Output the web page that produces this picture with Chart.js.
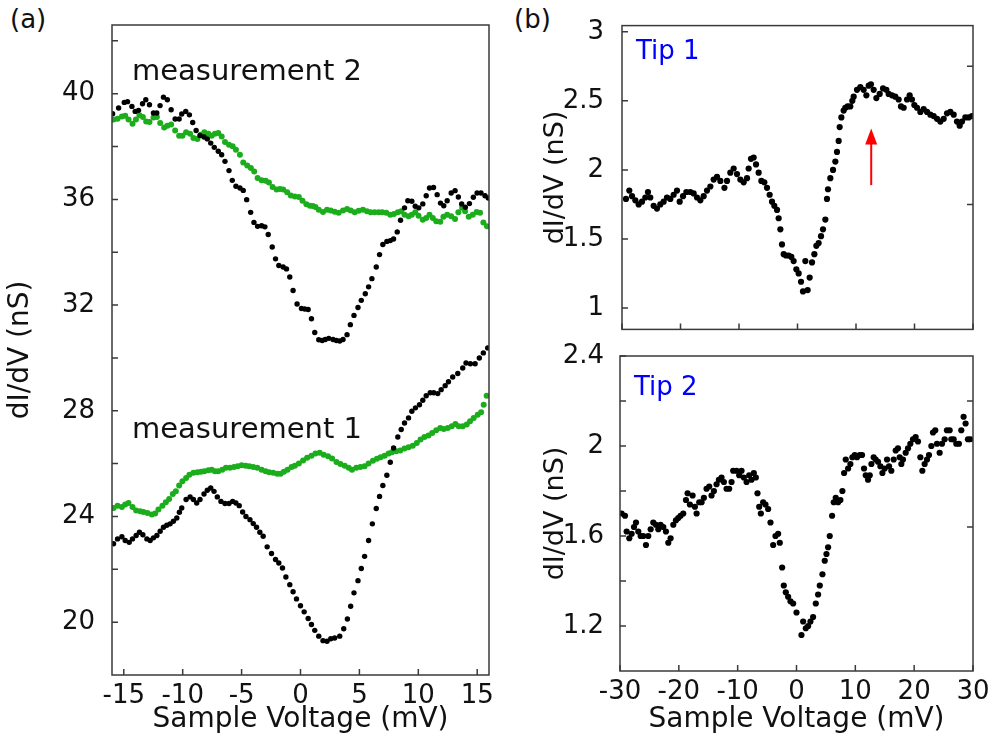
<!DOCTYPE html>
<html>
<head>
<meta charset="utf-8">
<script src="https://cdn.jsdelivr.net/npm/chart.js@4.4.1/dist/chart.umd.min.js"></script>
<style>
  body { margin: 0; background: #fff; }
  #fig { position: relative; width: 992px; height: 749px; overflow: hidden; font-family: "DejaVu Sans", sans-serif; }
  #fig canvas { position: absolute; }
  .panel { position: absolute; font-size: 26px; color: #111; }
</style>
</head>
<body>
<div id="fig">
  <div class="panel" style="left:10px;top:4px">(a)</div>
  <div class="panel" style="left:514px;top:4px">(b)</div>
  <canvas id="chartA" width="500" height="749" style="left:0;top:0"></canvas>
  <canvas id="chartB1" width="482" height="355" style="left:510px;top:0"></canvas>
  <canvas id="chartB2" width="482" height="419" style="left:510px;top:330px"></canvas>
</div>
<script>
// ---- panel (a) : measurement 2 (upper pair) ----
const m2BlackV = [-15.95,-15.44,-14.96,-14.68,-14.31,-14.03,-13.75,-13.41,-13.13,-12.82,-12.48,-12.20,-11.92,-11.63,-11.30,-10.98,-10.64,-10.30,-10.08,-9.74,-9.43,-9.15,-8.86,-8.53,-8.19,-7.91,-7.62,-7.32,-6.98,-6.69,-6.41,-6.07,-5.79,-5.48,-5.14,-4.86,-4.57,-4.23,-3.95,-3.64,-3.30,-3.02,-2.74,-2.40,-2.12,-1.84,-1.47,-1.19,-0.91,-0.63,-0.29,0.08,0.36,0.65,0.93,1.21,1.55,1.84,2.10,2.40,2.76,3.05,3.33,3.61,3.95,4.23,4.54,4.88,5.16,5.50,5.78,6.06,6.43,6.71,6.99,7.33,7.62,7.90,8.21,8.49,8.83,9.11,9.45,9.74,10.04,10.38,10.67,10.95,11.29,11.60,11.88,12.16,12.45,12.79,13.12,13.40,13.68,13.99,14.34,14.67,14.99,15.32,15.66,15.94];
const m2Black = [39.24,39.46,39.67,39.70,39.52,39.33,39.37,39.62,39.77,39.58,39.27,39.27,39.55,39.87,39.77,39.39,39.04,39.04,39.23,39.33,39.20,38.91,38.61,38.42,38.36,38.29,38.13,37.97,37.82,37.69,37.44,37.09,36.72,36.50,36.43,36.34,35.99,35.51,35.13,34.98,35.00,34.96,34.67,34.20,33.75,33.50,33.44,33.37,33.06,32.55,32.04,31.87,31.85,31.83,31.48,30.96,30.69,30.66,30.70,30.74,30.70,30.66,30.64,30.70,30.88,31.26,31.61,31.91,32.18,32.43,32.69,33.00,33.44,33.91,34.29,34.41,34.44,34.50,34.77,35.21,35.68,35.95,35.93,35.74,35.68,35.83,36.14,36.43,36.45,36.18,35.86,35.76,35.95,36.24,36.33,36.09,35.83,35.70,35.84,36.08,36.24,36.24,36.14,36.05];
const m2GreenV = [-15.87,-15.53,-15.16,-14.88,-14.60,-14.26,-13.97,-13.67,-13.38,-13.10,-12.82,-12.48,-12.19,-11.91,-11.57,-11.30,-10.98,-10.64,-10.30,-10.02,-9.71,-9.37,-9.09,-8.75,-8.47,-8.16,-7.82,-7.54,-7.26,-6.98,-6.69,-6.41,-6.07,-5.76,-5.48,-5.14,-4.86,-4.52,-4.21,-3.93,-3.64,-3.30,-2.96,-2.68,-2.37,-2.03,-1.75,-1.47,-1.13,-0.82,-0.48,-0.14,0.17,0.50,0.80,1.05,1.27,1.55,1.91,2.25,2.57,2.90,3.24,3.61,3.95,4.26,4.60,4.94,5.30,5.64,5.95,6.29,6.63,6.94,7.28,7.62,7.93,8.26,8.55,8.83,9.17,9.45,9.74,10.02,10.38,10.67,10.95,11.23,11.52,11.86,12.13,12.45,12.79,13.12,13.40,13.72,13.97,14.28,14.62,14.95,15.24,15.52,15.83];
const m2Green = [39.02,39.05,39.14,39.17,39.02,38.86,39.02,39.18,39.12,38.95,38.93,39.10,39.12,38.89,38.72,38.79,38.83,38.61,38.41,38.41,38.54,38.48,38.32,38.29,38.45,38.54,38.48,38.41,38.48,38.51,38.38,38.17,38.07,38.01,37.88,37.69,37.40,37.28,37.19,37.06,36.81,36.72,36.71,36.64,36.47,36.37,36.39,36.37,36.27,36.15,36.11,36.09,35.95,35.82,35.76,35.75,35.71,35.61,35.52,35.61,35.58,35.53,35.49,35.58,35.64,35.58,35.51,35.57,35.61,35.55,35.51,35.51,35.51,35.51,35.49,35.42,35.45,35.51,35.55,35.42,35.36,35.42,35.51,35.38,35.23,35.30,35.42,35.30,35.17,35.15,35.34,35.42,35.36,35.26,35.51,35.68,35.55,35.34,35.42,35.52,35.49,35.13,34.98];

// ---- panel (a) : measurement 1 (lower pair) ----
const m1BlackV = [-15.87,-15.53,-15.16,-14.88,-14.54,-14.26,-13.95,-13.67,-13.38,-13.04,-12.76,-12.48,-12.19,-11.91,-11.63,-11.35,-11.07,-10.79,-10.50,-10.28,-10.08,-9.71,-9.37,-9.09,-8.81,-8.53,-8.19,-7.91,-7.62,-7.34,-7.06,-6.75,-6.41,-6.07,-5.76,-5.48,-5.20,-4.91,-4.63,-4.29,-4.01,-3.73,-3.45,-3.17,-2.83,-2.46,-2.12,-1.84,-1.53,-1.24,-0.91,-0.63,-0.34,0.00,0.31,0.65,0.93,1.21,1.55,1.91,2.25,2.57,2.90,3.33,3.67,3.98,4.26,4.54,4.88,5.16,5.44,5.78,6.10,6.43,6.71,6.99,7.33,7.62,7.90,8.26,8.55,8.83,9.17,9.45,9.76,10.10,10.38,10.67,11.01,11.31,11.65,11.94,12.28,12.56,12.92,13.35,13.77,14.05,14.42,14.82,15.18,15.52,15.89];
const m1Black = [22.97,23.15,23.23,23.09,23.02,23.15,23.28,23.40,23.31,23.15,23.09,23.19,23.28,23.44,23.59,23.67,23.72,23.82,23.94,24.16,24.32,24.64,24.74,24.64,24.51,24.64,24.85,24.99,25.08,24.95,24.74,24.57,24.49,24.49,24.57,24.51,24.41,24.17,24.00,23.88,23.73,23.59,23.40,23.25,22.85,22.60,22.37,22.24,22.05,21.71,21.42,21.15,20.88,20.62,20.39,20.14,19.91,19.69,19.47,19.30,19.28,19.37,19.40,19.47,19.75,20.12,20.60,21.11,21.57,22.03,22.49,23.09,23.72,24.30,24.76,25.17,25.56,26.05,26.59,27.01,27.29,27.54,27.73,27.98,28.11,28.23,28.40,28.57,28.68,28.68,28.65,28.80,28.95,29.10,29.28,29.41,29.62,29.81,29.78,29.78,30.00,30.19,30.38];
const m1GreenV = [-15.87,-15.53,-15.16,-14.88,-14.60,-14.26,-13.95,-13.61,-13.33,-12.99,-12.62,-12.34,-12.06,-11.72,-11.43,-11.15,-10.84,-10.58,-10.30,-10.02,-9.71,-9.43,-9.09,-8.75,-8.44,-8.16,-7.82,-7.54,-7.26,-6.98,-6.64,-6.33,-5.99,-5.65,-5.33,-5.00,-4.66,-4.35,-4.01,-3.67,-3.30,-2.96,-2.66,-2.32,-1.98,-1.69,-1.41,-1.10,-0.76,-0.48,-0.14,0.22,0.56,0.93,1.27,1.63,1.97,2.34,2.68,3.05,3.39,3.75,4.09,4.37,4.74,5.08,5.44,5.78,6.15,6.49,6.80,7.14,7.48,7.76,8.13,8.47,8.83,9.17,9.53,9.87,10.19,10.52,10.86,11.18,11.52,11.86,12.16,12.50,12.84,13.15,13.43,13.77,14.11,14.39,14.70,15.04,15.33,15.55,15.80];
const m1Green = [24.32,24.41,24.36,24.45,24.51,24.36,24.23,24.20,24.17,24.13,24.07,24.11,24.26,24.41,24.54,24.66,24.85,24.95,25.17,25.33,25.46,25.58,25.65,25.67,25.69,25.71,25.75,25.77,25.71,25.71,25.77,25.84,25.84,25.87,25.90,25.94,25.92,25.90,25.87,25.84,25.77,25.71,25.67,25.65,25.62,25.62,25.69,25.77,25.87,25.92,26.00,26.12,26.22,26.30,26.38,26.41,26.34,26.28,26.19,26.06,25.99,25.92,25.84,25.77,25.84,25.87,25.90,26.00,26.11,26.18,26.24,26.30,26.38,26.43,26.47,26.50,26.57,26.62,26.68,26.78,26.91,27.01,27.06,27.16,27.26,27.35,27.31,27.35,27.41,27.50,27.41,27.41,27.48,27.60,27.73,27.85,27.94,28.23,28.57];

// ---- panel (b) : Tip 1 and Tip 2 ----
const tip1V = [-29.32,-28.75,-28.29,-27.72,-27.15,-26.58,-26.01,-25.56,-25.16,-24.59,-24.02,-23.45,-22.88,-22.31,-21.74,-21.17,-20.60,-20.14,-19.57,-19.00,-18.32,-17.75,-17.18,-16.61,-16.04,-15.47,-14.90,-14.33,-13.76,-13.19,-12.49,-12.05,-11.48,-10.91,-10.34,-9.77,-9.20,-8.63,-8.35,-7.95,-7.49,-7.09,-6.64,-6.18,-5.67,-5.21,-4.76,-4.36,-3.96,-3.50,-3.22,-2.93,-2.65,-2.36,-1.97,-1.51,-1.05,-0.66,-0.20,0.20,0.60,0.94,1.34,1.74,2.08,2.48,2.88,3.22,3.62,4.02,4.36,4.76,5.04,5.21,5.61,6.07,6.47,6.75,7.04,7.21,7.50,7.89,8.17,8.57,9.02,9.37,9.60,10.17,10.74,11.31,11.77,12.17,12.56,13.02,13.48,14.05,14.62,15.19,15.58,16.15,16.72,17.29,17.69,18.15,18.72,19.17,19.57,19.97,20.43,21.00,21.57,22.14,22.71,23.28,23.85,24.42,24.99,25.56,26.13,26.70,27.26,27.72,28.12,28.69,29.26,29.83];
const tip1 = [1.79,1.85,1.81,1.78,1.75,1.77,1.80,1.84,1.80,1.74,1.72,1.75,1.77,1.80,1.79,1.82,1.85,1.77,1.81,1.84,1.84,1.83,1.80,1.78,1.81,1.85,1.88,1.93,1.95,1.92,1.87,1.92,1.98,2.01,1.97,1.93,1.91,1.94,2.01,2.08,2.09,2.04,1.98,1.92,1.91,1.87,1.82,1.77,1.74,1.71,1.65,1.57,1.46,1.39,1.38,1.38,1.37,1.34,1.28,1.25,1.19,1.12,1.34,1.13,1.22,1.33,1.39,1.45,1.47,1.52,1.57,1.64,1.79,1.86,1.94,2.00,2.06,2.13,2.21,2.31,2.38,2.43,2.45,2.46,2.46,2.50,2.53,2.58,2.60,2.58,2.54,2.61,2.62,2.58,2.52,2.55,2.59,2.58,2.55,2.54,2.53,2.51,2.46,2.45,2.51,2.54,2.51,2.47,2.45,2.42,2.44,2.42,2.40,2.39,2.37,2.35,2.37,2.41,2.42,2.40,2.35,2.32,2.35,2.38,2.38,2.39];
const tip2V = [-29.72,-29.15,-28.87,-28.42,-28.02,-27.62,-27.28,-26.89,-26.49,-26.04,-25.59,-25.19,-24.79,-24.34,-23.89,-23.49,-23.10,-22.64,-22.19,-21.79,-21.40,-20.94,-20.49,-20.10,-19.70,-19.25,-18.79,-18.51,-18.12,-17.66,-17.27,-16.98,-16.53,-16.13,-15.74,-15.29,-14.83,-14.44,-14.04,-13.59,-13.19,-12.74,-12.34,-11.89,-11.44,-11.04,-10.76,-10.19,-9.74,-9.34,-8.95,-8.49,-8.04,-7.65,-7.25,-6.91,-6.63,-6.34,-6.06,-5.67,-5.27,-4.82,-4.42,-3.97,-3.57,-3.12,-2.84,-2.44,-2.16,-1.82,-1.42,-1.02,-0.57,0.00,0.84,1.13,1.58,1.98,2.37,2.82,3.28,3.67,3.96,4.41,4.80,5.09,5.37,5.65,6.05,6.33,6.67,7.07,7.46,7.80,8.09,8.37,8.77,9.16,9.50,9.90,10.29,10.75,11.14,11.48,11.77,12.16,12.45,12.73,13.12,13.46,13.86,14.26,14.60,14.99,15.39,15.73,16.12,16.52,16.86,17.25,17.54,17.82,18.10,18.56,18.95,19.35,19.80,20.25,20.65,21.05,21.39,21.78,22.18,22.52,22.92,23.20,23.59,23.88,24.33,24.73,25.18,25.57,26.03,26.31,26.71,27.16,27.61,28.01,28.40,28.74,29.14,29.54];
const tip2 = [1.70,1.69,1.62,1.59,1.61,1.64,1.66,1.62,1.60,1.60,1.56,1.60,1.63,1.66,1.65,1.63,1.65,1.64,1.62,1.57,1.59,1.65,1.67,1.68,1.69,1.70,1.76,1.79,1.74,1.78,1.73,1.70,1.75,1.75,1.77,1.81,1.82,1.78,1.80,1.83,1.85,1.86,1.84,1.81,1.81,1.84,1.89,1.89,1.87,1.89,1.86,1.84,1.87,1.85,1.88,1.86,1.79,1.73,1.70,1.75,1.74,1.72,1.66,1.56,1.60,1.61,1.57,1.46,1.38,1.35,1.33,1.31,1.30,1.26,1.16,1.22,1.19,1.20,1.22,1.24,1.30,1.34,1.38,1.43,1.49,1.52,1.55,1.60,1.69,1.75,1.77,1.75,1.76,1.80,1.88,1.94,1.90,1.92,1.95,1.96,1.95,1.96,1.96,1.90,1.87,1.85,1.87,1.92,1.95,1.94,1.93,1.91,1.88,1.90,1.94,1.91,1.89,1.94,1.98,1.99,1.95,1.92,1.94,1.97,1.99,2.01,2.03,2.04,2.02,1.95,1.89,1.92,1.94,1.96,2.00,2.06,2.07,2.01,1.97,2.01,2.03,2.07,2.07,2.03,2.03,2.01,2.01,2.07,2.13,2.10,2.03,2.03];

// tick values
const ticksAx = [-15, -10, -5, 0, 5, 10, 15];
const ticksAy = [20, 24, 28, 32, 36, 40];
const minorAy = [20, 22, 24, 26, 28, 30, 32, 34, 36, 38, 40, 42];
const ticksBx = [-30, -20, -10, 0, 10, 20, 30];
const ticksB1y = [1, 1.5, 2, 2.5, 3];
const ticksB2y = [1.2, 1.6, 2, 2.4];
const minorB2y = [1.2, 1.4, 1.6, 1.8, 2, 2.2, 2.4];

const GREEN = '#1bad1b';
const FONT = '"DejaVu Sans", sans-serif';
Chart.defaults.font.family = FONT;
Chart.defaults.color = '#111';

function pts(xs, ys) {
  return xs.map((v, i) => ({ x: v, y: ys[i] }));
}

// frame, inward ticks, in-plot labels, arrow
const frame = {
  id: 'frame',
  afterDraw(chart, args, o) {
    const ctx = chart.ctx, a = chart.chartArea;
    const sx = chart.scales.x, sy = chart.scales.y;
    ctx.save();
    ctx.strokeStyle = '#3a3a3a';
    ctx.lineWidth = 1.5;
    ctx.strokeRect(a.left, a.top, a.right - a.left, a.bottom - a.top);
    ctx.beginPath();
    (o.xt || []).forEach(v => {
      const p = sx.getPixelForValue(v);
      ctx.moveTo(p, a.bottom); ctx.lineTo(p, a.bottom - 6);
    });
    (o.yl || []).forEach(v => {
      const p = sy.getPixelForValue(v);
      ctx.moveTo(a.left, p); ctx.lineTo(a.left + 6, p);
    });
    (o.yr || []).forEach(v => {
      const p = sy.getPixelForValue(v);
      ctx.moveTo(a.right, p); ctx.lineTo(a.right - 6, p);
    });
    ctx.stroke();
    (o.texts || []).forEach(t => {
      ctx.font = t.font;
      ctx.fillStyle = t.color;
      ctx.textBaseline = 'alphabetic';
      ctx.fillText(t.text, a.left + t.dx, a.top + t.dy);
    });
    if (o.arrow) {
      const x = sx.getPixelForValue(o.arrow.x);
      const y0 = sy.getPixelForValue(o.arrow.y0);
      const y1 = sy.getPixelForValue(o.arrow.y1);
      ctx.strokeStyle = '#ff0000';
      ctx.fillStyle = '#ff0000';
      ctx.lineWidth = 2;
      ctx.beginPath();
      ctx.moveTo(x, y0); ctx.lineTo(x, y1 + 12);
      ctx.stroke();
      ctx.beginPath();
      ctx.moveTo(x, y1); ctx.lineTo(x - 6, y1 + 16); ctx.lineTo(x + 6, y1 + 16); ctx.closePath();
      ctx.fill();
    }
    ctx.restore();
  }
};

function xScale(min, max, ticks, showLabels, height) {
  return {
    type: 'linear', min: min, max: max,
    grid: { display: false }, border: { display: false },
    afterBuildTicks: s => { s.ticks = ticks.map(v => ({ value: v })); },
    afterFit: s => { s.height = height; },
    ticks: { display: showLabels, autoSkip: false, maxRotation: 0, padding: -2, font: { size: 26 }, color: '#111', callback: v => String(v) },
    title: { display: showLabels, text: 'Sample Voltage (mV)', font: { size: 28 }, color: '#111', padding: { top: 0, bottom: 12 } }
  };
}

function yScale(min, max, ticks, width, pad, titlePad, titleSize) {
  return {
    type: 'linear', min: min, max: max,
    grid: { display: false }, border: { display: false },
    afterBuildTicks: s => { s.ticks = ticks.map(v => ({ value: v })); },
    afterFit: s => { s.width = width; },
    ticks: { autoSkip: false, padding: pad, font: { size: 26 }, color: '#111', callback: v => String(v) },
    title: { display: true, text: 'dI/dV (nS)', font: { size: titleSize }, color: '#111', padding: { top: titlePad, bottom: 0 } }
  };
}

function baseOptions(padding, scales, frameOpts) {
  return {
    responsive: false,
    animation: false,
    events: [],
    layout: { padding: padding },
    scales: scales,
    plugins: { legend: { display: false }, tooltip: { enabled: false }, frame: frameOpts }
  };
}

function dotSet(xs, ys, color, r) {
  return { data: pts(xs, ys), backgroundColor: color, borderWidth: 0, pointRadius: r, showLine: false };
}

// panel (a)
new Chart(document.getElementById('chartA'), {
  type: 'scatter',
  data: {
    datasets: [
      dotSet(m2BlackV, m2Black, '#000', 2.7),
      dotSet(m1BlackV, m1Black, '#000', 2.7),
      dotSet(m2GreenV, m2Green, GREEN, 3.0),
      dotSet(m1GreenV, m1Green, GREEN, 3.0)
    ]
  },
  options: baseOptions({ left: 0, top: 25, right: 11, bottom: 0 }, {
    x: xScale(-16, 16, ticksAx, true, 74),
    y: yScale(18, 42.6, ticksAy, 112, 9, 4, 28)
  }, {
    xt: ticksAx, yl: minorAy,
    texts: [
      { text: 'measurement 2', dx: 20, dy: 55, font: '29px ' + FONT, color: '#111' },
      { text: 'measurement 1', dx: 20, dy: 413, font: '29px ' + FONT, color: '#111' }
    ]
  }),
  plugins: [frame]
});

// panel (b) top: Tip 1
new Chart(document.getElementById('chartB1'), {
  type: 'scatter',
  data: { datasets: [dotSet(tip1V, tip1, '#000', 3.1)] },
  options: baseOptions({ left: 0, top: 24, right: 19, bottom: 0 }, {
    x: xScale(-30, 30, ticksBx, false, 20),
    y: yScale(0.845, 3.045, ticksB1y, 112, 10, 30, 27)
  }, {
    xt: ticksBx, yl: ticksB1y, yr: [1.75, 2.75],
    texts: [{ text: 'Tip 1', dx: 14, dy: 33, font: '26px ' + FONT, color: '#0000ff' }],
    arrow: { x: 12.6, y0: 1.89, y1: 2.30 }
  }),
  plugins: [frame]
});

// panel (b) bottom: Tip 2
new Chart(document.getElementById('chartB2'), {
  type: 'scatter',
  data: { datasets: [dotSet(tip2V, tip2, '#000', 3.1)] },
  options: baseOptions({ left: 0, top: 26, right: 19, bottom: 0 }, {
    x: xScale(-30, 30, ticksBx, true, 78),
    y: yScale(1.0, 2.4, ticksB2y, 110, 8, 30, 27)
  }, {
    xt: ticksBx, yl: minorB2y, yr: [1.64, 2.2],
    texts: [{ text: 'Tip 2', dx: 14, dy: 39, font: '26px ' + FONT, color: '#0000ff' }]
  }),
  plugins: [frame]
});
</script>
</body>
</html>
